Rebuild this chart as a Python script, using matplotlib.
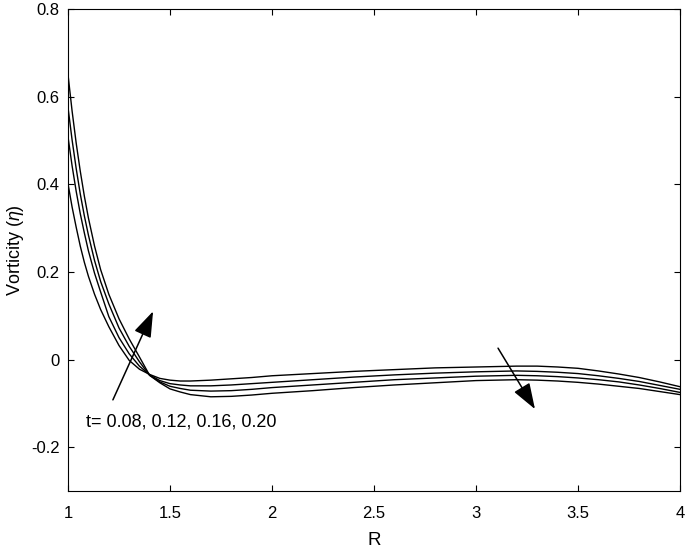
import numpy as np
import matplotlib
matplotlib.use("Agg")
import matplotlib.pyplot as plt

plt.rcParams['font.family'] = ['Liberation Sans', 'DejaVu Sans']
plt.rcParams['mathtext.fontset'] = 'custom'
plt.rcParams['mathtext.it'] = 'Liberation Sans:italic'

# radial positions
R = [1.00, 1.02, 1.04, 1.06, 1.08, 1.10, 1.13, 1.16, 1.20, 1.25, 1.30, 1.35,
     1.40, 1.45, 1.50, 1.55, 1.60, 1.70, 1.80, 1.90, 2.00, 2.20, 2.40, 2.60,
     2.80, 3.00, 3.10, 3.20, 3.30, 3.40, 3.50, 3.60, 3.70, 3.80, 3.90, 4.00]

# vorticity for t = 0.08, 0.12, 0.16, 0.20
eta_t008 = [0.401, 0.348, 0.302, 0.259, 0.222, 0.190, 0.149, 0.114, 0.075, 0.032,
            -0.002, -0.022, -0.034, -0.043, -0.047, -0.049, -0.049, -0.047, -0.044,
            -0.041, -0.037, -0.032, -0.027, -0.023, -0.019, -0.017, -0.016, -0.015,
            -0.015, -0.017, -0.020, -0.026, -0.033, -0.041, -0.051, -0.062]
eta_t012 = [0.508, 0.442, 0.384, 0.333, 0.289, 0.248, 0.197, 0.154, 0.098, 0.050,
            0.013, -0.015, -0.035, -0.048, -0.055, -0.058, -0.060, -0.060, -0.058,
            -0.055, -0.052, -0.046, -0.040, -0.035, -0.031, -0.028, -0.027, -0.026,
            -0.027, -0.029, -0.032, -0.037, -0.043, -0.050, -0.059, -0.068]
eta_t016 = [0.575, 0.501, 0.436, 0.378, 0.328, 0.284, 0.226, 0.178, 0.127, 0.072,
            0.030, -0.005, -0.036, -0.051, -0.061, -0.066, -0.070, -0.072, -0.071,
            -0.068, -0.064, -0.058, -0.052, -0.046, -0.042, -0.038, -0.037, -0.036,
            -0.037, -0.039, -0.042, -0.046, -0.051, -0.058, -0.066, -0.075]
eta_t020 = [0.650, 0.567, 0.494, 0.430, 0.373, 0.323, 0.259, 0.205, 0.149, 0.093,
            0.047, 0.006, -0.036, -0.053, -0.067, -0.074, -0.080, -0.085, -0.084,
            -0.081, -0.077, -0.071, -0.064, -0.058, -0.053, -0.048, -0.047, -0.046,
            -0.047, -0.049, -0.052, -0.056, -0.061, -0.066, -0.073, -0.080]

fig = plt.figure(figsize=(6.85, 5.54), dpi=100)
ax = fig.add_axes([0.0993, 0.1137, 0.8934, 0.8701])

for eta in [eta_t008, eta_t012, eta_t016, eta_t020]:
    ax.plot(R, eta, color='k', lw=1.0)

ax.set_xlim(1, 4)
ax.set_ylim(-0.3, 0.8)
ax.set_xticks([1, 1.5, 2, 2.5, 3, 3.5, 4])
ax.set_xticklabels(['1', '1.5', '2', '2.5', '3', '3.5', '4'])
ax.set_yticks([-0.2, 0, 0.2, 0.4, 0.6, 0.8])
ax.set_yticklabels(['-0.2', '0', '0.2', '0.4', '0.6', '0.8'])
ax.tick_params(direction='in', top=True, right=True, length=4.5, width=0.8,
               labelsize=12)
ax.tick_params(axis='x', pad=11)
ax.tick_params(axis='y', pad=6)
for s in ax.spines.values():
    s.set_linewidth(0.8)

ax.set_xlabel('R', fontsize=13.5, labelpad=8)
ax.set_ylabel(r'Vorticity ($\eta$)', fontsize=13)

arrow = dict(arrowstyle='-|>,head_length=0.8,head_width=0.28', color='k',
             lw=1.1, mutation_scale=20, shrinkA=0, shrinkB=0)
ax.annotate('', xy=(1.417, 0.110), xytext=(1.22, -0.092), arrowprops=arrow)
ax.annotate('', xy=(3.289, -0.113), xytext=(3.108, 0.026), arrowprops=arrow)

ax.text(1.09, -0.143, 't= 0.08, 0.12, 0.16, 0.20', fontsize=13, va='center')

fig.savefig('out.png', dpi=100)
